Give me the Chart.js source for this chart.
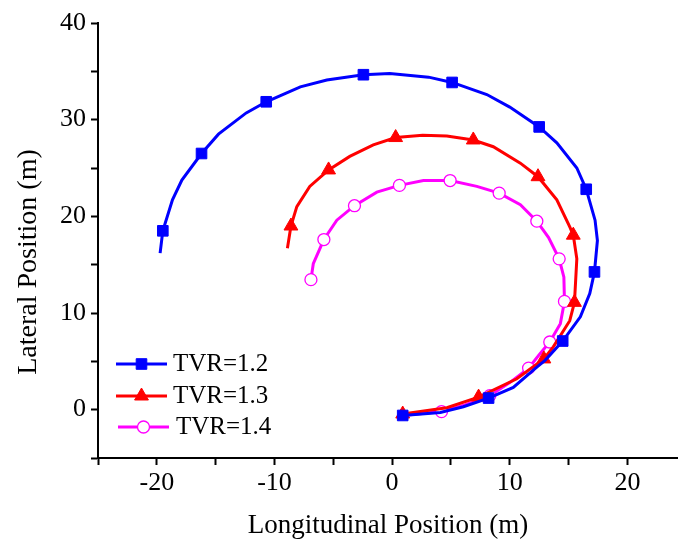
<!DOCTYPE html>
<html>
<head>
<meta charset="utf-8">
<script src="https://cdn.jsdelivr.net/npm/chart.js@4/dist/chart.umd.min.js"></script>
<style>
  html,body{margin:0;padding:0;background:#fff;}
  #wrap{width:678px;height:546px;}
</style>
</head>
<body>
<div id="wrap"><canvas id="c" width="678" height="546"></canvas></div>
<script>
// series names
const seriesNames = ['TVR=1.2', 'TVR=1.3', 'TVR=1.4'];

// TVR=1.2 trajectory (m)
const blueX = [-19.72,-19.49,-18.67,-17.87,-16.2,-14.76,-12.4,-10.7,-7.8,-5.55,-2.44,-0.2,3.1,5.1,8.05,10.0,12.5,14.0,15.7,16.5,17.25,17.45,17.2,16.8,16.0,14.5,13.0,12.3,10.3,8.2,6.06,4.1,0.9];
const blueY = [16.2,18.5,21.7,23.75,26.5,28.5,30.7,31.85,33.4,34.1,34.65,34.78,34.4,33.85,32.6,31.3,29.25,27.6,25.0,22.8,19.6,17.5,14.25,12.0,9.6,7.1,5.1,4.4,2.3,1.2,0.3,-0.3,-0.6];
const blueMarks = [1,4,7,10,13,16,19,22,25,29,32];

// TVR=1.3
const redX = [-8.9,-8.6,-8.1,-7.0,-5.4,-3.6,-1.6,0.3,2.6,4.65,6.9,8.6,10.9,12.4,14.0,15.1,15.4,15.7,15.5,15.1,13.7,12.9,10.6,7.35,4.65,0.9];
const redY = [16.7,19.0,21.0,23.1,24.8,26.2,27.4,28.15,28.4,28.3,27.9,27.2,25.5,24.1,21.7,18.9,18.05,15.6,11.1,9.2,6.5,5.25,3.2,1.3,0.2,-0.45];
const redMarks = [1,4,7,10,13,16,18,21,23,25];

// TVR=1.4
const magX = [-6.9,-6.7,-5.8,-4.7,-3.2,-1.3,0.62,2.66,4.93,7.2,9.1,10.9,12.3,13.3,14.2,14.6,14.65,14.3,13.4,12.45,11.6,10.0,8.3,6.2,4.2,0.9];
const magY = [13.45,15.1,17.6,19.6,21.1,22.5,23.2,23.7,23.7,23.1,22.4,21.2,19.5,17.8,15.6,13.7,11.2,8.9,7.0,5.6,4.3,2.8,1.45,0.5,-0.2,-0.6];
const magMarks = [0,2,4,6,8,10,12,14,16,18,20,22,24];

// axis ticks
const xTicks = [-25,-20,-15,-10,-5,0,5,10,15,20];
const yTicks = [-5,0,5,10,15,20,25,30,35,40];

const SERIF = "'Liberation Serif','Times New Roman',serif";

function pts(xs, ys){ return xs.map((x,i)=>({x:x, y:ys[i]})); }

const styles = [
  {color:'#0000ff', fill:'#0000ff', style:'rect', r:7.5, bw:1},
  {color:'#ff0000', fill:'#ff0000', style:'triangle', r:8, bw:1},
  {color:'#ff00ff', fill:'#ffffff', style:'circle', r:6, bw:1.3}
];
const marks = [blueMarks, redMarks, magMarks];
const data = [pts(blueX,blueY), pts(redX,redY), pts(magX,magY)];

const datasets = data.map((d,k)=>({
  label: seriesNames[k],
  data: d,
  showLine: true,
  tension: 0,
  borderColor: styles[k].color,
  borderWidth: 3,
  pointStyle: styles[k].style,
  pointRadius: ctx => marks[k].includes(ctx.dataIndex) ? styles[k].r : 0,
  pointBackgroundColor: styles[k].fill,
  pointBorderColor: styles[k].color,
  pointBorderWidth: styles[k].bw,
  order: k
}));

// legend drawn Origin-style: short line with a marker in the middle
const legendPlugin = {
  id: 'originLegend',
  afterDatasetsDraw(chart){
    const ctx = chart.ctx;
    const rows = [
      {y:364, x1:116, x2:167, tx:173},
      {y:396, x1:116, x2:167, tx:173},
      {y:427, x1:118, x2:169, tx:176}
    ];
    ctx.save();
    rows.forEach((row,k)=>{
      const s = styles[k];
      ctx.strokeStyle = s.color; ctx.lineWidth = 3;
      ctx.beginPath(); ctx.moveTo(row.x1,row.y); ctx.lineTo(row.x2,row.y); ctx.stroke();
      ctx.fillStyle = s.fill; ctx.strokeStyle = s.color; ctx.lineWidth = s.bw;
      Chart.helpers.drawPoint(ctx, {pointStyle:s.style, radius:s.r, rotation:0, borderWidth:s.bw}, (row.x1+row.x2)/2, row.y);
      ctx.fillStyle = '#000';
      ctx.font = '25px ' + SERIF;
      ctx.textBaseline = 'middle';
      ctx.fillText(seriesNames[k], row.tx, row.y);
    });
    ctx.restore();
  }
};

// y axis title sits a bit below the middle of the axis in the original
const yTitlePlugin = {
  id: 'yTitle',
  afterDraw(chart){
    const ctx = chart.ctx;
    ctx.save();
    ctx.translate(29, 262);
    ctx.rotate(-Math.PI/2);
    ctx.font = '28px ' + SERIF;
    ctx.fillStyle = '#000';
    ctx.textAlign = 'center';
    ctx.textBaseline = 'middle';
    ctx.fillText('Lateral Position (m)', 0, 0);
    ctx.restore();
  }
};

const axisCommon = {
  grid: {display:true, drawOnChartArea:false, drawTicks:true, tickLength:7, tickWidth:2, tickColor:'#000'},
  border: {display:true, color:'#000', width:2}
};

new Chart(document.getElementById('c'), {
  type: 'scatter',
  data: {datasets},
  options: {
    responsive: false,
    animation: false,
    layout: {autoPadding:false, padding:{top:23, right:0, left:0, bottom:0}},
    plugins: {legend:{display:false}, tooltip:{enabled:false}},
    scales: {
      x: Object.assign({}, axisCommon, {
        type: 'linear', min: -25, max: 24.3,
        afterBuildTicks: s => { s.ticks = xTicks.map(v=>({value:v})); },
        afterFit: s => { s.height = 88; s.paddingLeft = 0; s.paddingRight = 0; },
        ticks: {
          autoSkip: false, maxRotation: 0, padding: 3, color: '#000',
          font: {family: SERIF, size: 26},
          callback: v => v % 10 === 0 ? String(v) : ''
        },
        title: {display:true, text:'Longitudinal Position (m)', color:'#000',
          font:{family:SERIF, size:27}, padding:{top:0, bottom:4}}
      }),
      y: Object.assign({}, axisCommon, {
        type: 'linear', min: -5, max: 40,
        afterBuildTicks: s => { s.ticks = yTicks.map(v=>({value:v})); },
        afterFit: s => { s.width = 98; },
        ticks: {
          autoSkip: false, padding: 5, color: '#000',
          font: {family: SERIF, size: 26},
          callback: v => v % 10 === 0 ? String(v) : ''
        }
      })
    }
  },
  plugins: [legendPlugin, yTitlePlugin]
});
</script>
</body>
</html>
